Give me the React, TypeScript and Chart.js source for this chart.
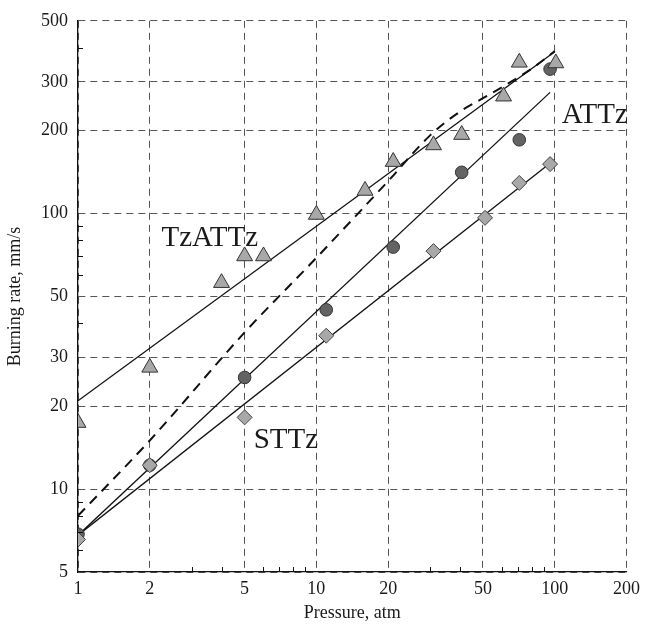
import React, { useEffect, useRef } from "react";
import { Chart, registerables } from "chart.js";

Chart.register(...registerables);

// ---- data ----
const xTicks = [1, 2, 5, 10, 20, 50, 100, 200];
const yTicks = [5, 10, 20, 30, 50, 100, 200, 300, 500];
const xMinor = [3, 4, 6, 7, 8, 9, 30, 40, 60, 70, 80, 90];
const yMinor = [6, 7, 8, 9, 40, 60, 70, 80, 90, 400];

const tzPressure = [1, 2, 4, 5, 6, 10, 16, 21, 31, 40.7, 61, 71, 101];
const tzRate = [17.4, 27.6, 56, 70, 70, 99, 121, 154, 177, 193, 266, 353, 351];

const atPressure = [1, 2, 5, 11, 21, 40.7, 71, 95.6];
const atRate = [6.86, 12.2, 25.4, 44.7, 75.5, 141, 185, 334];

const stPressure = [1, 2, 5, 11, 31, 51, 71, 95.6];
const stRate = [6.56, 12.2, 18.2, 36, 73, 96.4, 129, 151];

const tzFitPressure = [1, 100];
const tzFitRate = [20.9, 386];
const atFitPressure = [1, 95.6];
const atFitRate = [6.8, 275];
const stFitPressure = [1, 100];
const stFitRate = [6.8, 157];

const dashPressure = [1, 2, 5, 10, 20, 30, 40, 50, 60, 80, 100];
const dashRate = [8.0, 15.0, 37, 69, 131, 192, 234, 262, 287, 335, 388];

const seriesLabels = [
  { text: "TzATTz", x: 2.24, y: 76 },
  { text: "ATTz", x: 107, y: 212 },
  { text: "STTz", x: 5.46, y: 14.1 },
];

const pts = (xs: number[], ys: number[]) => xs.map((x, i) => ({ x, y: ys[i] }));

const FONT = "'Liberation Serif', 'Times New Roman', serif";

const extras = {
  id: "extras",
  afterDatasetsDraw(chart: any) {
    const { ctx, scales } = chart;
    const xs = scales.x;
    const ys = scales.y;
    const ca = chart.chartArea;
    ctx.save();
    ctx.strokeStyle = "#111";
    ctx.lineWidth = 1;
    ctx.setLineDash([]);
    ctx.beginPath();
    xMinor.forEach((v) => {
      const px = Math.round(xs.getPixelForValue(v)) + 0.5;
      ctx.moveTo(px, ca.bottom);
      ctx.lineTo(px, ca.bottom - 5);
    });
    yMinor.forEach((v) => {
      const py = Math.round(ys.getPixelForValue(v)) + 0.5;
      ctx.moveTo(ca.left, py);
      ctx.lineTo(ca.left + 5, py);
    });
    ctx.stroke();
    ctx.fillStyle = "#1a1a1a";
    ctx.textAlign = "left";
    ctx.textBaseline = "alphabetic";
    ctx.font = `29px ${FONT}`;
    seriesLabels.forEach((l) => {
      ctx.fillText(l.text, xs.getPixelForValue(l.x), ys.getPixelForValue(l.y));
    });
    ctx.restore();
  },
};

export default function App() {
  const ref = useRef<HTMLCanvasElement | null>(null);
  useEffect(() => {
    if (!ref.current) return;
    const lineDs = (data: any[], dash: number[] = [], width = 1.3) => ({
      data,
      showLine: true,
      pointRadius: 0,
      borderColor: "#111",
      borderWidth: width,
      borderDash: dash,
      backgroundColor: "transparent",
      fill: false,
    });
    const chart = new Chart(ref.current, {
      type: "scatter",
      data: {
        datasets: [
          {
            data: pts(tzPressure, tzRate),
            pointStyle: "triangle",
            pointRadius: 9.2,
            backgroundColor: "#a8a8a8",
            borderColor: "#333",
            borderWidth: 1,
          },
          {
            data: pts(stPressure, stRate),
            pointStyle: "rectRot",
            pointRadius: 7.5,
            backgroundColor: "#a8a8a8",
            borderColor: "#444",
            borderWidth: 1,
          },
          {
            data: pts(atPressure, atRate),
            pointStyle: "circle",
            pointRadius: 6.3,
            backgroundColor: "#636363",
            borderColor: "#333",
            borderWidth: 1,
          },
          lineDs(pts(tzFitPressure, tzFitRate)) as any,
          lineDs(pts(atFitPressure, atFitRate)) as any,
          lineDs(pts(stFitPressure, stFitRate)) as any,
          { ...(lineDs(pts(dashPressure, dashRate), [10, 7], 2) as any), cubicInterpolationMode: "monotone" },
        ],
      },
      options: {
        animation: false,
        responsive: false,
        maintainAspectRatio: false,
        layout: { padding: { left: 0, right: 16, top: 19, bottom: 0 } },
        plugins: { legend: { display: false }, tooltip: { enabled: false } },
        elements: { line: { tension: 0 } },
        scales: {
          x: {
            type: "logarithmic",
            min: 1,
            max: 200,
            afterBuildTicks: (s: any) => {
              s.ticks = xTicks.map((v) => ({ value: v }));
            },
            afterFit: (s: any) => {
              s.height = 58;
            },
            ticks: {
              autoSkip: false,
              maxRotation: 0,
              padding: 6,
              color: "#1a1a1a",
              font: { family: FONT, size: 18 },
              callback: (v: any) => String(v),
            },
            grid: { color: "#555", lineWidth: 1, drawTicks: false },
            border: { display: true, color: "#111", width: 1.3, dash: [7, 5] },
            title: {
              display: true,
              text: "Pressure, atm",
              color: "#1a1a1a",
              font: { family: FONT, size: 18 },
              padding: { top: 0, bottom: 6 },
            },
          },
          y: {
            type: "logarithmic",
            min: 5,
            max: 500,
            afterBuildTicks: (s: any) => {
              s.ticks = yTicks.map((v) => ({ value: v }));
            },
            afterFit: (s: any) => {
              s.width = 78;
            },
            ticks: {
              autoSkip: false,
              padding: 10,
              color: "#1a1a1a",
              font: { family: FONT, size: 18 },
              callback: (v: any) => String(v),
            },
            grid: { color: "#555", lineWidth: 1, drawTicks: false },
            border: { display: true, color: "#111", width: 1.3, dash: [7, 5] },
            title: {
              display: true,
              text: "Burning rate, mm/s",
              color: "#1a1a1a",
              font: { family: FONT, size: 18 },
              padding: { top: 4, bottom: 0 },
            },
          },
        },
      },
      plugins: [extras],
    } as any);
    return () => chart.destroy();
  }, []);
  return (
    <div style={{ position: "absolute", left: 0, top: 0, width: 646, height: 630, background: "#fff" }}>
      <canvas ref={ref} width={646} height={630} style={{ display: "block" }} />
    </div>
  );
}
